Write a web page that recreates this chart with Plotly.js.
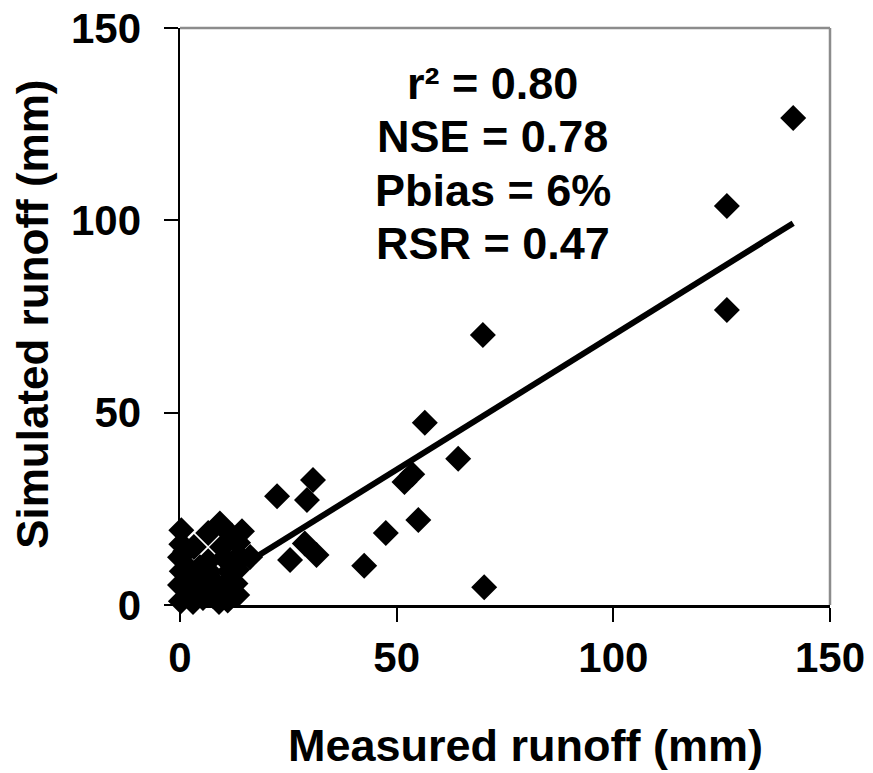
<!DOCTYPE html>
<html><head><meta charset="utf-8">
<script src="https://cdn.plot.ly/plotly-3.0.1.min.js"></script>
<style>html,body{margin:0;padding:0;background:#fff}</style>
</head><body>
<div id="chart" style="width:873px;height:773px"></div>
<script>
// Measured vs simulated runoff (mm)
const measured = [141.5, 126.2, 126.2, 69.9, 70.2, 56.5, 64.2, 51.8, 53.6, 55.0, 47.5, 42.5,
  30.7, 22.4, 29.3, 25.4, 28.8, 31.5,
  0.2, 2.3, 5.3, 9.2, 13.2, 0.0, 0.4, 0.0, 0.3, 0.3, 9.2, 14.3, 13.4, 13.6, 13.2, 12.8,
  3.2, 9.7, 6.5, 6.5, 10.2, 4.0, 8.4, 6.8, 16.2, 1.2, 11.0, 2.5,
  2.0, 4.6, 11.4, 10.6, 7.5, 11.6, 12.0, 1.6, 3.0, 9.0];
const simulated = [126.6, 103.7, 76.7, 70.2, 4.6, 47.4, 38.0, 32.0, 34.0, 22.1, 18.7, 10.2,
  32.5, 28.3, 27.3, 11.7, 16.0, 13.0,
  1.0, 2.2, 1.8, 2.5, 2.6, 5.2, 8.8, 12.4, 15.8, 19.4, 21.2, 19.2, 16.2, 12.8, 9.2, 5.6,
  15.1, 15.1, 18.7, 11.4, 12.2, 5.8, 5.4, 8.6, 12.5, 14.0, 1.2, 7.5,
  9.5, 9.8, 8.8, 5.0, 2.4, 2.0, 18.0, 4.4, 0.8, 0.8];
const trendSlope = 0.70;
const trendIntercept = 0.2;
const statLabels = ['r² = 0.80', 'NSE = 0.78', 'Pbias = 6%', 'RSR = 0.47'];
const axisTicks = [0, 50, 100, 150];
const axisTickText = ['0', '50', '100', '150'];
const xTitle = 'Measured runoff (mm)';
const yTitle = 'Simulated runoff (mm)';

const FONT = 'Liberation Sans, Arial, sans-serif';
const xMin = Math.min(...measured), xMax = Math.max(...measured);
const trendX = [xMin, xMax];
const trendY = trendX.map(v => trendSlope * v + trendIntercept);

const traces = [
  {x: measured, y: simulated, type: 'scatter', mode: 'markers', cliponaxis: false,
   marker: {symbol: 'diamond', size: 20, color: '#000', line: {width: 0}},
   hoverinfo: 'x+y', showlegend: false},
  {x: trendX, y: trendY, type: 'scatter', mode: 'lines', cliponaxis: false,
   line: {color: '#000', width: 6}, hoverinfo: 'skip', showlegend: false}
];

const axisBase = {
  range: [0, 150], tickvals: axisTicks, ticktext: axisTickText,
  ticks: 'outside', ticklen: 14, tickwidth: 2, tickcolor: '#000',
  showline: true, linecolor: '#000', linewidth: 2.5,
  showgrid: false, zeroline: false, fixedrange: true,
  tickfont: {family: FONT, size: 42, color: '#000', weight: 'bold'}
};

const annotations = statLabels.map((t, i) => ({
  text: t, xref: 'x', yref: 'y', x: 72.2, y: 135.7 - i * 13.95,
  xanchor: 'center', yanchor: 'middle', showarrow: false,
  font: {family: FONT, size: 45, color: '#000', weight: 'bold'}
}));
annotations.push({
  text: xTitle, xref: 'paper', yref: 'paper', x: 0.532, y: -0.244,
  xanchor: 'center', yanchor: 'middle', showarrow: false,
  font: {family: FONT, size: 45, color: '#000', weight: 'bold'}
});
annotations.push({
  text: yTitle, xref: 'paper', yref: 'paper', x: -0.226, y: 0.503,
  xanchor: 'center', yanchor: 'middle', showarrow: false, textangle: -90,
  font: {family: FONT, size: 44, color: '#000', weight: 'bold'}
});

const layout = {
  width: 873, height: 773,
  margin: {l: 180, r: 43, t: 28, b: 168, pad: 0},
  paper_bgcolor: '#fff', plot_bgcolor: '#fff',
  xaxis: Object.assign({}, axisBase),
  yaxis: Object.assign({}, axisBase, {ticklabelstandoff: 14}),
  shapes: [
    {type: 'line', xref: 'paper', yref: 'paper', x0: 0, x1: 1, y0: 1, y1: 1,
     line: {color: '#8c8c8c', width: 2.5}, layer: 'below'},
    {type: 'line', xref: 'paper', yref: 'paper', x0: 1, x1: 1, y0: 0, y1: 1,
     line: {color: '#8c8c8c', width: 2.5}, layer: 'below'}
  ],
  annotations: annotations,
  showlegend: false
};

Plotly.newPlot('chart', traces, layout, {displayModeBar: false, staticPlot: true});
</script>
</body></html>
